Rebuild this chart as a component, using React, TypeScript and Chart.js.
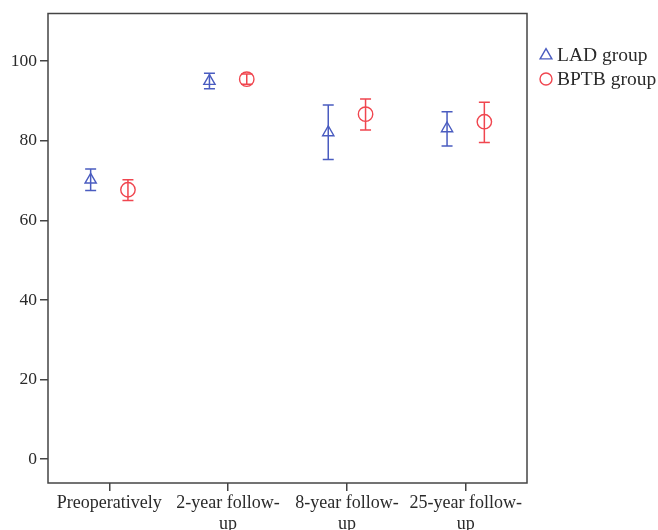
import React, { useEffect, useRef } from "react";
import { Chart, registerables } from "chart.js";

Chart.register(...registerables);

const categoryLabels: string[][] = [
  ["Preoperatively"],
  ["2-year follow-", "up"],
  ["8-year follow-", "up"],
  ["25-year follow-", "up"],
];
const yTicks = [0, 20, 40, 60, 80, 100];

const ladMean = [70.2, 95.0, 82.1, 83.1];
const ladLow = [67.5, 93.1, 75.3, 78.7];
const ladHigh = [72.9, 97.0, 89.0, 87.3];

const bptbMean = [67.7, 95.5, 86.7, 84.8];
const bptbLow = [65.0, 94.2, 82.7, 79.6];
const bptbHigh = [70.2, 96.8, 90.5, 89.7];

const seriesNames = ["LAD group", "BPTB group"];

const BLUE = "#4a5cc0";
const RED = "#f0464f";
const INK = "#2a2a2a";
const FRAME = "#444444";
const FONT = "'Liberation Serif', 'Times New Roman', serif";
const OFFSET = 0.157;

export default function App() {
  const ref = useRef<HTMLCanvasElement | null>(null);

  useEffect(() => {
    if (!ref.current) return;
    const errs = [
      { low: ladLow, high: ladHigh, color: BLUE, off: -OFFSET },
      { low: bptbLow, high: bptbHigh, color: RED, off: OFFSET },
    ];

    const errorBars = {
      id: "errorBars",
      beforeDatasetsDraw(chart: any) {
        const ctx = chart.ctx;
        const xs = chart.scales.x;
        const ys = chart.scales.y;
        ctx.save();
        ctx.lineWidth = 1.5;
        errs.forEach((e) => {
          ctx.strokeStyle = e.color;
          e.low.forEach((lo, i) => {
            const x = xs.getPixelForValue(i + e.off);
            const y1 = ys.getPixelForValue(lo);
            const y2 = ys.getPixelForValue(e.high[i]);
            ctx.beginPath();
            ctx.moveTo(x, y1);
            ctx.lineTo(x, y2);
            ctx.moveTo(x - 5.5, y1);
            ctx.lineTo(x + 5.5, y1);
            ctx.moveTo(x - 5.5, y2);
            ctx.lineTo(x + 5.5, y2);
            ctx.stroke();
          });
        });
        ctx.restore();
      },
    };

    const frameLegend = {
      id: "frameLegend",
      afterDraw(chart: any) {
        const ctx = chart.ctx;
        const a = chart.chartArea;
        ctx.save();
        ctx.strokeStyle = FRAME;
        ctx.lineWidth = 1.5;
        ctx.strokeRect(a.left, a.top, a.right - a.left, a.bottom - a.top);
        // legend
        ctx.lineWidth = 1.4;
        const lx = 546;
        ctx.strokeStyle = BLUE;
        ctx.beginPath();
        const ty = 55.5;
        const r = 6.8;
        ctx.moveTo(lx, ty - r);
        ctx.lineTo(lx + r * 0.866, ty + r * 0.5);
        ctx.lineTo(lx - r * 0.866, ty + r * 0.5);
        ctx.closePath();
        ctx.stroke();
        ctx.strokeStyle = RED;
        ctx.beginPath();
        ctx.arc(lx, 79, 6, 0, Math.PI * 2);
        ctx.stroke();
        ctx.fillStyle = INK;
        ctx.font = `19.5px ${FONT}`;
        ctx.textBaseline = "middle";
        ctx.textAlign = "left";
        ctx.fillText(seriesNames[0], 557, 56);
        ctx.fillText(seriesNames[1], 557, 80);
        ctx.restore();
      },
    };

    const chart = new Chart(ref.current, {
      type: "scatter",
      data: {
        datasets: [
          {
            label: seriesNames[0],
            data: ladMean.map((v, i) => ({ x: i - OFFSET, y: v })),
            pointStyle: "triangle",
            pointRadius: 6.5,
            pointHoverRadius: 6.5,
            borderColor: BLUE,
            backgroundColor: "rgba(0,0,0,0)",
            pointBorderWidth: 1.4,
            showLine: false,
          },
          {
            label: seriesNames[1],
            data: bptbMean.map((v, i) => ({ x: i + OFFSET, y: v })),
            pointStyle: "circle",
            pointRadius: 7.2,
            pointHoverRadius: 7.2,
            borderColor: RED,
            backgroundColor: "rgba(0,0,0,0)",
            pointBorderWidth: 1.4,
            showLine: false,
          },
        ],
      },
      options: {
        animation: false,
        responsive: false,
        layout: { padding: { top: 13, right: 131, left: 0, bottom: 0 } },
        plugins: {
          legend: { display: false },
          tooltip: { enabled: false },
        },
        scales: {
          x: {
            type: "linear",
            min: -0.516,
            max: 3.516,
            afterBuildTicks: (s: any) => {
              s.ticks = categoryLabels.map((_, i) => ({ value: i }));
            },
            afterFit: (s: any) => {
              s.height = 47;
            },
            border: { display: false },
            grid: {
              drawOnChartArea: false,
              drawTicks: true,
              tickLength: 8,
              color: FRAME,
              lineWidth: 1.5,
            },
            ticks: {
              autoSkip: false,
              maxRotation: 0,
              padding: 2,
              color: INK,
              font: { family: FONT, size: 18, lineHeight: 1.15 },
              callback: (v: any) => categoryLabels[Math.round(Number(v))] ?? "",
            },
          },
          y: {
            type: "linear",
            min: -6,
            max: 112,
            afterBuildTicks: (s: any) => {
              s.ticks = yTicks.map((v) => ({ value: v }));
            },
            afterFit: (s: any) => {
              s.width = 48;
            },
            border: { display: false },
            grid: {
              drawOnChartArea: false,
              drawTicks: true,
              tickLength: 8,
              color: FRAME,
              lineWidth: 1.5,
            },
            ticks: {
              padding: 3,
              color: INK,
              font: { family: FONT, size: 17.5 },
            },
          },
        },
      },
      plugins: [errorBars, frameLegend],
    });
    return () => chart.destroy();
  }, []);

  return (
    <div style={{ position: "absolute", left: 0, top: 0, width: 658, height: 530, background: "#fff" }}>
      <canvas ref={ref} width={658} height={530} style={{ display: "block" }} />
    </div>
  );
}
